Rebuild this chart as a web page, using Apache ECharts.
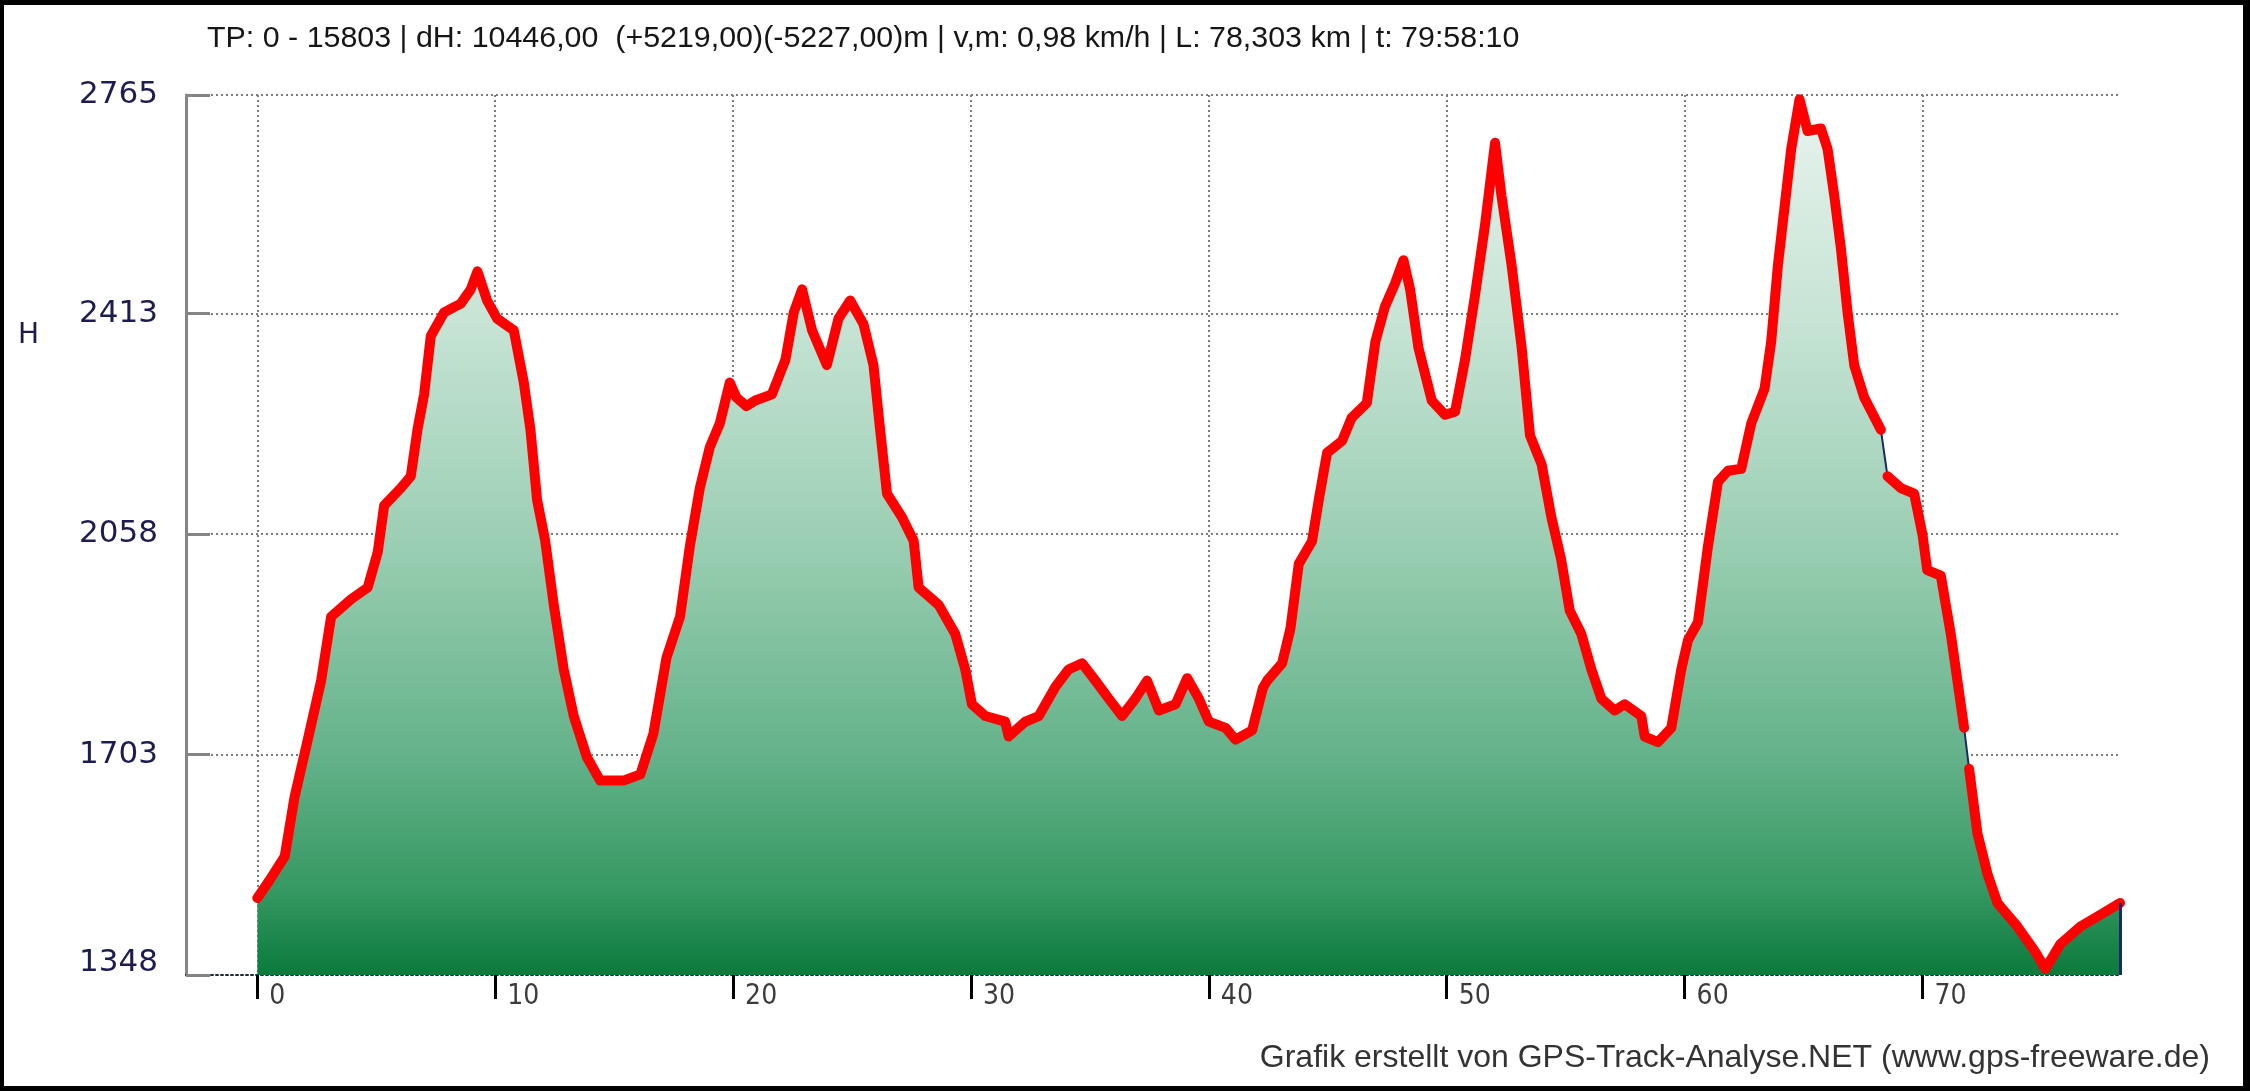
<!DOCTYPE html>
<html>
<head>
<meta charset="utf-8">
<script src="https://cdn.jsdelivr.net/npm/echarts@6/dist/echarts.min.js"></script>
<style>
  html, body { margin: 0; padding: 0; background: #fff; }
  #wrap { position: relative; width: 2250px; height: 1091px; }
  #chart { position: absolute; left: 0; top: 0; width: 2250px; height: 1091px; }
  #frame { position: absolute; left: 0; top: 0; width: 2250px; height: 1091px; box-sizing: border-box;
           border-style: solid; border-color: #000; border-width: 5px 7px 5px 4px; pointer-events: none; }
</style>
</head>
<body>
<div id="wrap"><div id="chart"></div><div id="frame"></div></div>
<script>
// ---- data (km, elevation m) ----
const distKm = [0, 0.5, 1.15, 1.56, 2.12, 2.68, 3.1, 3.94, 4.64, 5.06, 5.33, 6.03, 6.45, 6.73, 7.01, 7.29, 7.85, 8.55, 8.97, 9.25,
  9.66, 10.08, 10.78, 11.2, 11.48, 11.76, 12.1, 12.46, 12.88, 13.3, 13.85, 14.41, 15.39, 16.1, 16.65, 17.2, 17.77, 18.18, 18.6, 19.02,
  19.44, 19.86, 20.14, 20.56, 20.93, 21.63, 22.2, 22.55, 22.9, 23.32, 23.94, 24.43, 24.92, 25.48, 25.9, 26.18, 26.47, 27.1, 27.59, 27.8,
  28.64, 29.34, 29.76, 30.04, 30.6, 31.44, 31.58, 32.29, 32.85, 33.55, 34.1, 34.67, 35.23, 35.79, 36.35, 36.91, 37.4, 37.9, 38.6, 39.09,
  39.58, 40.0, 40.7, 41.12, 41.82, 42.27, 42.45, 43.08, 43.43, 43.78, 44.34, 44.62, 44.97, 45.6, 46.0, 46.64, 47.0, 47.4, 47.83, 48.18,
  48.46, 48.81, 49.37, 49.93, 50.35, 50.77, 51.19, 51.61, 52.03, 52.3, 52.73, 53.15, 53.5, 53.99, 54.4, 54.8, 55.17, 55.66, 56.08, 56.5,
  57.06, 57.48, 58.18, 58.32, 58.88, 59.44, 59.86, 60.14, 60.56, 60.98, 61.4, 61.82, 62.38, 62.8, 63.36, 63.64, 63.92, 64.2, 64.48, 64.83,
  65.17, 65.73, 66.01, 66.29, 66.57, 66.85, 67.13, 67.55, 68.25, 68.53, 69.09, 69.65, 70.0, 70.2, 70.77, 71.19, 71.75, 71.96, 72.31, 72.73,
  73.15, 73.99, 74.69, 75.17, 75.8, 76.64, 77.48, 78.303];
const elevM = [1472, 1500, 1539, 1634, 1727, 1822, 1925, 1953, 1972, 2029, 2104, 2132, 2151, 2226, 2283, 2377, 2415, 2429, 2452, 2481,
  2434, 2405, 2386, 2302, 2226, 2113, 2047, 1944, 1840, 1765, 1699, 1661, 1661, 1671, 1737, 1859, 1925, 2038, 2132, 2198,
  2236, 2302, 2278, 2264, 2273, 2283, 2339, 2415, 2452, 2386, 2330, 2405, 2434, 2396, 2330, 2226, 2123, 2085, 2047, 1972,
  1944, 1897, 1840, 1784, 1765, 1756, 1732, 1756, 1765, 1812, 1840, 1850, 1822, 1793, 1765, 1793, 1822, 1774, 1784, 1826,
  1793, 1756, 1746, 1727, 1742, 1810, 1822, 1850, 1906, 2010, 2047, 2113, 2189, 2208, 2245, 2269, 2368, 2424, 2462, 2499,
  2452, 2358, 2273, 2250, 2255, 2339, 2443, 2556, 2688, 2603, 2490, 2358, 2217, 2170, 2085, 2019, 1935, 1897, 1840, 1793,
  1774, 1784, 1765, 1732, 1723, 1746, 1840, 1887, 1916, 2038, 2142, 2160, 2163, 2236, 2292, 2368, 2490, 2584, 2678, 2758,
  2707, 2711, 2678, 2603, 2518, 2415, 2330, 2278, 2226, 2151, 2132, 2123, 2057, 2000, 1991, 1897, 1746, 1680, 1576, 1511,
  1464, 1426, 1388, 1358, 1398, 1426, 1445, 1464];
// places where the red profile line is interrupted (km)
const redBreaksKm = [68.4, 71.85];

const xTicks = [0, 10, 20, 30, 40, 50, 60, 70];
const yTicks = [1348, 1703, 2058, 2413, 2765];
const xRange = [-3, 78.303];
const yRange = [1348, 2765];

const titleText = 'TP: 0 - 15803 | dH: 10446,00  (+5219,00)(-5227,00)m | v,m: 0,98 km/h | L: 78,303 km | t: 79:58:10';
const yName = 'H';
const footerText = 'Grafik erstellt von GPS-Track-Analyse.NET (www.gps-freeware.de)';

// ---- build ----
const pts = distKm.map((d, i) => [d, elevM[i]]);
const redPts = [];
pts.forEach((p, i) => {
  redPts.push(p);
  if (i < pts.length - 1) {
    redBreaksKm.forEach(b => { if (b > p[0] && b < pts[i + 1][0]) redPts.push([b, '-']); });
  }
});

const chart = echarts.init(document.getElementById('chart'), null, { renderer: 'canvas' });
const gridDash = { color: '#7c7c7c', type: [2, 3], width: 2 };
const option = {
  backgroundColor: '#ffffff',
  animation: false,
  title: [
    { text: titleText, left: 207, top: 24, padding: 0,
      textStyle: { fontFamily: 'Liberation Sans, Arial, sans-serif', fontSize: 30.4, fontWeight: 'normal', color: '#161616' } },
    { text: yName, left: 18, top: 322, padding: 0,
      textStyle: { fontFamily: 'DejaVu Sans, sans-serif', fontSize: 28, fontWeight: 'normal', color: '#1c1c50' } },
    { text: footerText, right: 40, top: 1042, padding: 0,
      textStyle: { fontFamily: 'Liberation Sans, Arial, sans-serif', fontSize: 32, fontWeight: 'normal', color: '#333333' } }
  ],
  grid: { left: 186, right: 130, top: 95, bottom: 116, containLabel: false },
  xAxis: {
    type: 'value', min: xRange[0], max: xRange[1],
    axisLine: { show: true, onZero: false, lineStyle: { color: '#1d2838', type: [2, 3], width: 2 } },
    axisTick: { show: true, customValues: xTicks, inside: false, length: 24, lineStyle: { color: '#000', width: 3 } },
    axisLabel: { customValues: xTicks, align: 'left', padding: [0, 0, 0, 12], margin: 8,
      fontFamily: 'Liberation Sans Narrow, DejaVu Sans Condensed, sans-serif', fontSize: 28, color: '#3c3c3c' },
    splitLine: { show: true, lineStyle: gridDash }
  },
  yAxis: {
    type: 'value', min: yRange[0], max: yRange[1],
    axisLine: { show: true, onZero: false, lineStyle: { color: '#858585', width: 3 } },
    axisTick: { show: true, customValues: yTicks, inside: true, length: 24, lineStyle: { color: '#858585', width: 3 } },
    axisLabel: { customValues: yTicks, margin: 28, fontFamily: 'DejaVu Sans, sans-serif', fontSize: 31, color: '#1c1c50',
      formatter: v => (v === yTicks[0] ? '{lo|' + v + '}' : String(v)),
      rich: { lo: { fontFamily: 'DejaVu Sans, sans-serif', fontSize: 31, color: '#1c1c50', padding: [0, 0, 24, 0] } } },
    splitLine: { show: true, lineStyle: gridDash }
  },
  series: [
    {
      type: 'line', data: pts, symbol: 'none', z: 2,
      lineStyle: { color: '#1b2a66', width: 2 },
      areaStyle: {
        opacity: 1,
        color: new echarts.graphic.LinearGradient(0, 0, 0, 1, [
          { offset: 0, color: '#e8f3ee' },
          { offset: 0.25, color: '#c7e4d5' },
          { offset: 0.5, color: '#9ccfb4' },
          { offset: 0.75, color: '#64b28a' },
          { offset: 0.9, color: '#379963' },
          { offset: 1, color: '#0a7a3c' }
        ])
      },
      markLine: {
        silent: true, symbol: 'none', label: { show: false },
        lineStyle: { color: '#1b2a66', width: 3, type: 'solid' },
        data: [[{ coord: [distKm[distKm.length - 1], yRange[0]] }, { coord: [distKm[distKm.length - 1], elevM[elevM.length - 1]] }]]
      }
    },
    {
      type: 'line', data: redPts, symbol: 'none', z: 3, connectNulls: false,
      lineStyle: { color: '#ff0000', width: 10, join: 'round', cap: 'round' }
    }
  ]
};
chart.setOption(option);
</script>
</body>
</html>
